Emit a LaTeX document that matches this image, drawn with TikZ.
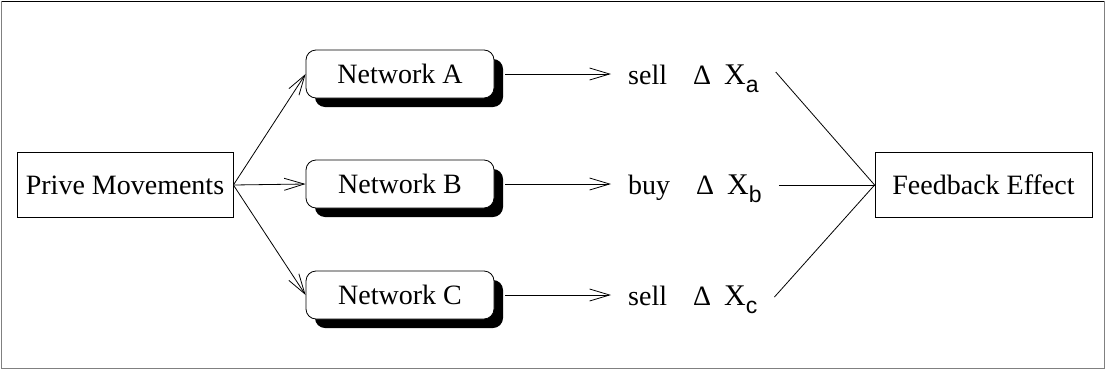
\documentclass[tikz,border=0pt]{standalone}
\usepackage{fontspec}
\setmainfont{Liberation Serif}
\newfontfamily\subf{Liberation Sans}
\usetikzlibrary{arrows.meta,shadows}
\newcommand{\dx}[1]{\char"0394\hspace{13pt}{\fontsize{30}{32}\selectfont X}\raisebox{-8pt}{\fontsize{23}{26}\subf #1}}
\begin{document}
\begin{tikzpicture}[x=1pt,y=-1pt,
  every node/.style={font=\fontsize{28}{32}\selectfont},
  plainbox/.style={draw, line width=0.8pt, minimum width=216pt, minimum height=65pt, inner sep=0pt},
  netbox/.style={draw, fill=white, line width=0.8pt, rounded corners=10pt, minimum width=188pt, minimum height=48pt, inner sep=0pt,
     drop shadow={shadow xshift=9pt, shadow yshift=-9pt, fill=black, opacity=1}},
  lbl/.style={inner ysep=0pt, inner xsep=17pt, anchor=base west},
  arr/.style={line width=0.8pt, -{Straight Barb[length=20pt,width=12pt,line width=0.8pt]}},
  ln/.style={line width=0.8pt}]
\useasboundingbox (0,0) rectangle (1106,370);
% frame
\draw[line width=1.5pt] (1,1.5) -- (1104.5,1.5);
\draw[line width=1.5pt, gray] (1.5,1) -- (1.5,368.5) -- (1104.5,368.5) -- (1104.5,1);
% nodes
\node[plainbox] (pm) at (125,185) {Prive Movements};
\node[plainbox, minimum width=217pt] (fe) at (983.5,185) {Feedback Effect};
\node[netbox] (na) at (400,74) {Network A};
\node[netbox] (nb) at (400,184) {Network B};
\node[netbox] (nc) at (400,295) {Network C};
\node[lbl] (sa) at (611,84) {sell\hspace{26pt}\dx{a}};
\node[lbl] (sb) at (611,194) {buy\hspace{26pt}\dx{b}};
\node[lbl] (sc) at (611,305) {sell\hspace{26pt}\dx{c}};
% connectors
\draw[arr] (pm.east) -- (na.west);
\draw[arr] (pm.east) -- (nb.west);
\draw[arr] (pm.east) -- (nc.west);
\draw[arr] ([xshift=11pt]na.east) -- (na.east -| sa.west);
\draw[arr] ([xshift=11pt]nb.east) -- (nb.east -| sb.west);
\draw[arr] ([xshift=11pt]nc.east) -- (nc.east -| sc.west);
\draw[ln] ([yshift=2pt]sa.east |- na.east) -- (fe.west);
\draw[ln] (sb.east |- fe.west) -- (fe.west);
\draw[ln] ([yshift=-2pt]sc.east |- nc.east) -- (fe.west);
\end{tikzpicture}
\end{document}
